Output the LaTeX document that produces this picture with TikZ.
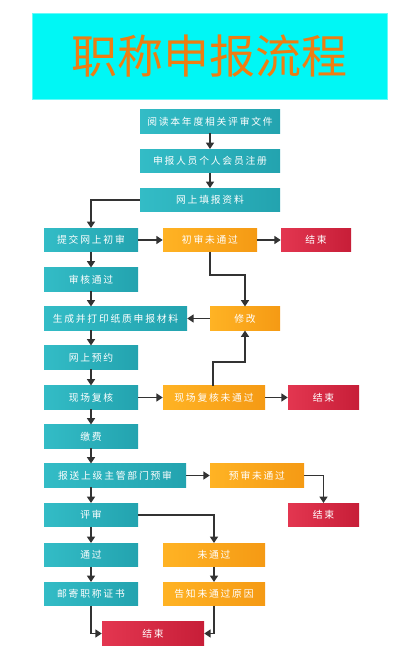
\documentclass[tikz,border=0pt]{standalone}
\usepackage{fontspec}
\newfontfamily\cjk[LetterSpace=18]{Noto Sans CJK SC}
\newfontfamily\cjktitle{Noto Sans CJK SC}
\usetikzlibrary{arrows.meta}
\definecolor{tealL}{HTML}{33BCC6}
\definecolor{tealR}{HTML}{23A3AF}
\definecolor{orgL}{HTML}{FFB324}
\definecolor{orgR}{HTML}{F59A14}
\definecolor{redL}{HTML}{E33650}
\definecolor{redR}{HTML}{C71E38}
\definecolor{titlebg}{HTML}{00F7F5}
\definecolor{titletxt}{HTML}{EE7D12}
\definecolor{linec}{HTML}{333333}
\tikzset{
  box/.style={draw=none, minimum height=23.5pt, inner sep=0pt, text=white,
    font=\cjk\fontsize{9.8}{11}\selectfont},
  tbox/.style={box, left color=tealL, right color=tealR},
  obox/.style={box, left color=orgL, right color=orgR},
  rbox/.style={box, left color=redL, right color=redR},
  conn/.style={draw=linec, line width=1.9pt, -{Triangle[length=6.5pt,width=8pt]}},
}
\begin{document}
\begin{tikzpicture}[x=1pt,y=-1pt]
\useasboundingbox (0,0) rectangle (415,648);
% title
\node[draw=titlebg!60!white, line width=0.6pt, fill=titlebg, minimum width=355pt, minimum height=86pt, inner sep=0pt,
  text=titletxt, font=\cjktitle\fontsize{46}{50}\selectfont] (title) at (209.5,56) {职称申报流程};
% column 1 top
\node[tbox, minimum width=140pt] (n1) at (210,121.5) {阅读本年度相关评审文件};
\node[tbox, minimum width=140pt] (n2) at (210,161) {申报人员个人会员注册};
\node[tbox, minimum width=140pt] (n3) at (210,200) {网上填报资料};
% left column
\node[tbox, minimum width=94pt] (a1) at (91,240) {提交网上初审};
\node[tbox, minimum width=94pt] (a2) at (91,279.5) {审核通过};
\node[tbox, minimum width=143pt] (a3) at (115.5,318.5) {生成并打印纸质申报材料};
\node[tbox, minimum width=94pt] (a4) at (91,357.5) {网上预约};
\node[tbox, minimum width=94pt] (a5) at (91,397.5) {现场复核};
\node[tbox, minimum width=94pt] (a6) at (91,436.5) {缴费};
\node[tbox, minimum width=142pt] (a7) at (115,475.5) {报送上级主管部门预审};
\node[tbox, minimum width=94pt] (a8) at (91,515) {评审};
\node[tbox, minimum width=94pt] (a9) at (91,555) {通过};
\node[tbox, minimum width=94pt] (a10) at (91,594) {邮寄职称证书};
% orange
\node[obox, minimum width=94pt] (b1) at (210,240) {初审未通过};
\node[obox, minimum width=70pt] (b2) at (245,318.5) {修改};
\node[obox, minimum width=102pt] (b3) at (214,397.5) {现场复核未通过};
\node[obox, minimum width=94pt] (b4) at (257,475.5) {预审未通过};
\node[obox, minimum width=102pt] (b5) at (214,555) {未通过};
\node[obox, minimum width=102pt] (b6) at (214,594) {告知未通过原因};
% red
\node[rbox, minimum width=70pt] (e1) at (316,240) {结束};
\node[rbox, minimum width=71pt] (e2) at (323.5,397.5) {结束};
\node[rbox, minimum width=71pt] (e3) at (323.5,515) {结束};
\node[rbox, minimum width=102pt] (e4) at (153,633.5) {结束};
% connectors
\draw[conn] (n1) -- (n2);
\draw[conn] (n2) -- (n3);
\draw[conn] (n3.west) -| (a1.north);
\draw[conn] (a1) -- (a2);
\draw[conn] (a2) -- (a3.north -| a2);
\draw[conn] (a3.south -| a4) -- (a4);
\draw[conn] (a4) -- (a5);
\draw[conn] (a5) -- (a6);
\draw[conn] (a6) -- (a7.north -| a6);
\draw[conn] (a7.south -| a8) -- (a8);
\draw[conn] (a8) -- (a9);
\draw[conn] (a9) -- (a10);
\draw[conn] (a1) -- (b1);
\draw[conn] (b1) -- (e1);
\coordinate (k1) at (210,275);
\draw[conn] (b1.south) -- (k1) -| (b2.north);
\draw[conn] (b2) -- (a3);
\draw[conn] (a5) -- (b3);
\draw[conn] (b3) -- (e2);
\coordinate (k2) at (213,362);
\draw[conn] (b3.north -| k2) -- (k2) -| (b2.south);
\draw[conn] (a7) -- (b4);
\draw[conn] (b4.east) -| (e3.north);
\draw[conn] (a8.east) -| (b5.north);
\draw[conn] (b5) -- (b6);
\draw[conn] (a10.south) |- (e4.west);
\draw[conn] (b6.south) |- (e4.east);
\end{tikzpicture}
\end{document}
